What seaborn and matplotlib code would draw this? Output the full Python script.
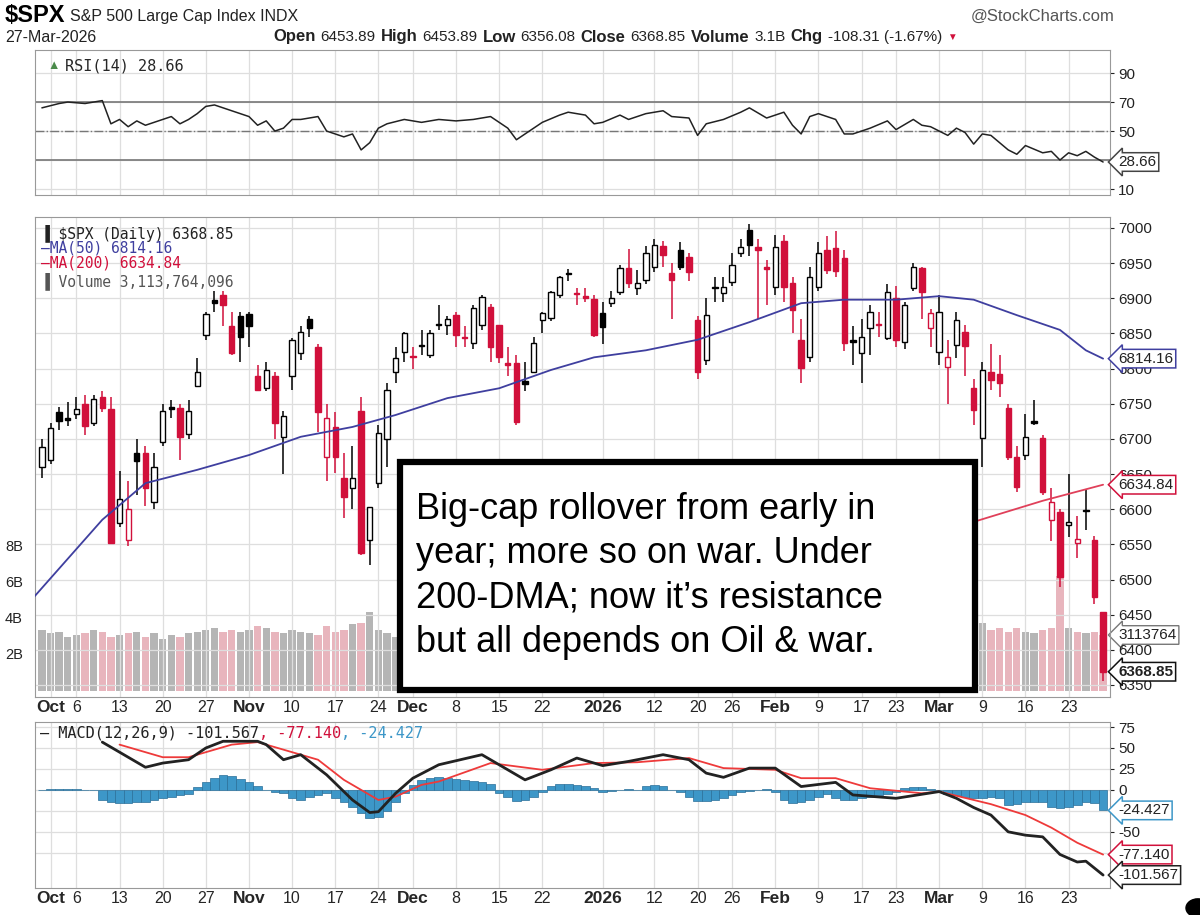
import numpy as np
import pandas as pd
import matplotlib
matplotlib.use("Agg")
import matplotlib.pyplot as plt
import matplotlib.patches as mpatches
import matplotlib.transforms as mtrans
import seaborn as sns

sns.set_style("white")
plt.rcParams['font.family'] = ['Liberation Sans', 'DejaVu Sans']

# ---- data ----
holidays = ['2025-11-27', '2025-12-25', '2026-01-01', '2026-01-19', '2026-02-16']
dates = pd.bdate_range('2025-09-30', '2026-03-27', freq='C', holidays=holidays)

opens = [6660, 6670, 6738, 6730, 6735, 6750, 6722, 6760, 6742, 6580,
         6556, 6680, 6680, 6610, 6695, 6745, 6744, 6707, 6775, 6848,
         6897, 6905, 6860, 6875, 6878, 6790, 6772, 6790, 6702, 6790,
         6822, 6870, 6830, 6674, 6717, 6644, 6630, 6740, 6556, 6637,
         6700, 6795, 6824, 6818, 6833, 6820, 6864, 6862, 6876, 6845,
         6836, 6862, 6888, 6862, 6808, 6808, 6782, 6795, 6869, 6872,
         6905, 6936, 6907, 6903, 6899, 6879, 6893, 6909, 6943, 6915,
         6926, 6945, 6975, 6936, 6968, 6958, 6869, 6812, 6916, 6908,
         6923, 6964, 6997, 6973, 6944, 6916, 6982, 6922, 6840, 6817,
         6916, 6969, 6971, 6957, 6840, 6822, 6858, 6863, 6843, 6900,
         6838, 6915, 6943, 6858, 6824, 6802, 6834, 6852, 6772, 6701,
         6795, 6793, 6744, 6674, 6677, 6725, 6701, 6585, 6596, 6578,
         6552, 6599, 6556, 6453.89]
highs = [6700, 6722, 6745, 6752, 6760, 6762, 6762, 6768, 6760, 6655,
         6640, 6700, 6690, 6680, 6750, 6755, 6750, 6755, 6815, 6880,
         6910, 6910, 6880, 6880, 6880, 6805, 6810, 6795, 6740, 6843,
         6860, 6875, 6835, 6750, 6738, 6680, 6690, 6760, 6600, 6720,
         6780, 6830, 6852, 6830, 6855, 6855, 6890, 6875, 6880, 6860,
         6890, 6905, 6892, 6862, 6830, 6820, 6810, 6845, 6880, 6910,
         6932, 6942, 6915, 6915, 6905, 6895, 6910, 6948, 6970, 6940,
         6975, 6985, 6982, 6950, 6980, 6965, 6875, 6900, 6930, 6930,
         6965, 6985, 7005, 6985, 6955, 6990, 6990, 6930, 6870, 6945,
         6980, 6988, 6995, 6968, 6860, 6870, 6890, 6880, 6920, 6918,
         6895, 6950, 6945, 6885, 6905, 6840, 6880, 6862, 6785, 6810,
         6835, 6820, 6750, 6690, 6735, 6755, 6705, 6630, 6600, 6650,
         6590, 6628, 6562, 6453.89]
lows = [6645, 6665, 6712, 6718, 6728, 6705, 6718, 6738, 6552, 6575,
        6548, 6620, 6605, 6600, 6690, 6730, 6670, 6700, 6775, 6840,
        6880, 6860, 6820, 6810, 6830, 6768, 6768, 6700, 6650, 6770,
        6812, 6845, 6710, 6640, 6652, 6588, 6600, 6535, 6520, 6630,
        6660, 6780, 6810, 6800, 6820, 6815, 6855, 6848, 6830, 6830,
        6828, 6855, 6810, 6808, 6790, 6720, 6768, 6795, 6850, 6868,
        6900, 6925, 6890, 6895, 6845, 6835, 6888, 6905, 6915, 6905,
        6920, 6938, 6945, 6870, 6940, 6925, 6785, 6805, 6895, 6895,
        6918, 6958, 6960, 6870, 6890, 6905, 6895, 6850, 6780, 6810,
        6910, 6935, 6930, 6825, 6805, 6780, 6820, 6845, 6840, 6830,
        6828, 6910, 6870, 6830, 6805, 6750, 6815, 6790, 6720, 6660,
        6770, 6760, 6670, 6625, 6670, 6720, 6620, 6555, 6490, 6560,
        6530, 6570, 6465, 6356.08]
closes = [6688, 6715, 6725, 6727, 6742, 6718, 6757, 6744, 6552, 6615,
          6600, 6668, 6630, 6660, 6740, 6742, 6703, 6740, 6795, 6878,
          6893, 6890, 6822, 6845, 6860, 6770, 6798, 6722, 6732, 6840,
          6852, 6858, 6738, 6730, 6674, 6617, 6645, 6538, 6603, 6708,
          6770, 6815, 6850, 6816, 6832, 6851, 6862, 6870, 6848, 6843,
          6886, 6902, 6831, 6816, 6805, 6724, 6778, 6836, 6879, 6909,
          6930, 6934, 6906, 6900, 6848, 6859, 6900, 6943, 6922, 6922,
          6964, 6976, 6961, 6926, 6945, 6937, 6795, 6876, 6914, 6916,
          6947, 6973, 6976, 6969, 6942, 6973, 6916, 6883, 6801, 6930,
          6964, 6940, 6939, 6836, 6838, 6845, 6880, 6862, 6909, 6840,
          6890, 6945, 6909, 6879, 6880, 6816, 6869, 6832, 6741, 6798,
          6784, 6779, 6674, 6632, 6703, 6722, 6625, 6610, 6504, 6582,
          6558, 6597, 6475, 6368.85]

# volume in billions
volume = [3.4, 3.2, 3.3, 3.0, 3.1, 3.2, 3.4, 3.3, 3.0, 3.1, 3.2, 3.3, 3.0, 3.2, 2.9, 3.1, 3.0, 3.2, 3.3, 3.4, 3.5, 3.3, 3.4, 3.3,
          3.4, 3.6, 3.5, 3.3, 3.2, 3.4, 3.3, 3.2, 3.1, 3.6, 3.3, 3.4, 3.7, 3.8, 4.4, 3.4, 3.2, 3.0, 2.4,
          3.2, 3.3, 3.4, 3.3, 3.5, 3.4, 3.3, 3.6, 3.8, 3.5, 3.6, 3.4, 4.2, 3.3, 3.0, 2.8, 2.4, 2.2, 2.0, 2.5, 2.6, 2.8,
          3.2, 3.4, 3.3, 3.4, 3.5, 3.3, 3.6, 3.4, 3.5, 3.6, 3.3, 3.2, 3.4, 3.3, 3.4, 3.5, 3.3, 3.4, 3.2, 3.5,
          3.6, 3.7, 3.5, 3.4, 3.5, 3.3, 3.4, 3.6, 3.5, 3.4, 3.3, 3.5, 3.4, 3.3, 3.5, 3.4, 3.3, 3.2, 3.4,
          3.5, 3.4, 3.6, 3.5, 3.4, 3.8, 3.4, 3.5, 3.3, 3.5, 3.3, 3.2, 3.4, 3.5, 6.4, 3.5, 3.3, 3.2, 3.3, 3.1]

# moving averages (day index, value)
ma50_idx = [-1, 7, 12, 18, 24, 30, 36, 41, 47, 53, 59, 64, 70, 76, 82, 88, 93, 99, 104, 108, 113, 118, 121, 123]
ma50_val = [6474, 6585, 6637, 6656, 6677, 6703, 6717, 6734, 6758, 6772, 6798, 6816, 6826, 6841, 6866, 6893,
            6898, 6898, 6903, 6898, 6876, 6855, 6826, 6814.16]
ma200_idx = [76, 88, 99, 108, 116, 123]
ma200_val = [6430, 6480, 6545, 6582, 6612, 6634.84]

rsi_idx = [0, 2, 3, 5, 7, 8, 9, 10, 11, 12, 13, 15, 16, 17, 18, 19, 20, 22, 24, 25, 26, 27, 28, 29, 30, 32,
           33, 35, 36, 37, 38, 39, 40, 42, 44, 46, 48, 50, 52, 54, 55, 57, 58, 60, 61, 63, 64, 65, 67, 68,
           70, 72, 73, 75, 76, 77, 79, 81, 82, 84, 86, 87, 88, 89, 90, 92, 93, 94, 96, 98, 99, 101, 102,
           103, 105, 106, 107, 108, 109, 110, 112, 113, 114, 116, 117, 118, 119, 120, 121, 122, 123]
rsi_val = [66, 69, 70, 69, 71, 55, 58, 53, 57, 54, 56, 60, 55, 58, 62, 67, 68, 64, 60, 54, 57, 50, 52, 58, 58, 60,
           50, 46, 48, 37, 42, 52, 55, 58, 56, 58, 57, 58, 60, 52, 44, 52, 56, 61, 63, 61, 55, 56, 61, 58,
           62, 64, 60, 59, 47, 55, 58, 63, 66, 59, 63, 54, 48, 60, 62, 58, 48, 48, 52, 57, 51, 58, 54,
           53, 47, 52, 49, 41, 48, 47, 37, 34, 40, 35, 36, 30, 35, 33, 36, 32, 28.66]

macd_idx = [7, 10, 12, 14, 17, 19, 21, 25, 26, 28, 30, 33, 36, 38, 39, 41, 43, 46, 51, 53, 56, 59, 62, 65,
            68, 72, 75, 77, 79, 82, 85, 88, 92, 94, 99, 104, 106, 108, 110, 112, 114, 116, 118, 120, 121, 123]
macd_val = [57, 39, 27, 32, 36, 50, 58, 58, 54, 36, 42, 18, -12, -27, -26, -4, 14, 30, 42, 30, 12, 24, 38, 29,
            34, 42, 36, 20, 15, 26, 26, 4, 9, -6, -10, -2, -10, -21, -30, -50, -54, -56, -77, -86, -85, -101.567]
signal_idx = [9, 14, 17, 22, 25, 29, 32, 35, 39, 41, 44, 46, 52, 58, 64, 69, 75, 79, 85, 88, 92, 96, 102,
              104, 108, 110, 114, 117, 120, 123]
signal_val = [54, 39, 39, 54, 57, 45, 36, 12, -12, -8, 6, 10, 32, 24, 32, 33, 38, 26, 24, 14, 14, 2, -4,
              -2, -12, -17, -30, -45, -63, -77.14]
hist = [0, 1, 1, 1, 1, 0, 0,
        -12, -14, -16, -16, -15, -14, -12, -10, -8, -6, -5,
        4, 10, 14, 18, 17, 13, 9, 5,
        0, -2, -4,
        -10, -12, -9, -6, -4,
        -10, -14, -20, -28, -33, -32, -25, -14,
        -4, 6, 12, 14,
        15, 14, 13, 12, 11, 9, 7,
        -4, -9, -13, -12, -8, -3,
        5, 7, 7, 6, 5, 2,
        -2, -1, 0, 1, 0,
        5, 6, 5,
        0, -2,
        -8, -13, -13, -12, -10, -6,
        -3, -1, 0, 1, -2,
        -12, -16, -15, -12, -8, -5,
        -10, -12, -12, -10, -8,
        -6, -5, -3,
        2, 3, 3, 1, 0,
        -5, -6, -8, -10, -10, -9, -10,
        -18, -17, -15, -15, -14,
        -20, -22, -20, -18,
        -15, -16, -24.427]

tick_dates = ['2025-10-01', '2025-10-06', '2025-10-13', '2025-10-20', '2025-10-27', '2025-11-03',
              '2025-11-10', '2025-11-17', '2025-11-24', '2025-12-01', '2025-12-08', '2025-12-15',
              '2025-12-22', '2026-01-02', '2026-01-12', '2026-01-20', '2026-01-26', '2026-02-02',
              '2026-02-09', '2026-02-17', '2026-02-23', '2026-03-02', '2026-03-09', '2026-03-16', '2026-03-23']
tick_labels = ['Oct', '6', '13', '20', '27', 'Nov', '10', '17', '24', 'Dec', '8', '15', '22', '2026',
               '12', '20', '26', 'Feb', '9', '17', '23', 'Mar', '9', '16', '23']
bold_labels = {'Oct', 'Nov', 'Dec', '2026', 'Feb', 'Mar'}

# ---- styles ----
RED = '#d1103b'
BLUE = '#3f3f9f'
MA200_RED = '#e0405a'
GRID = '#dedede'
HIST_BLUE = '#3d97c8'
MONO = ['DejaVu Sans Mono']

n = len(closes)
x = np.arange(n)
date_pos = {d: i for i, d in enumerate(dates.strftime('%Y-%m-%d'))}
tick_pos = [date_pos[d] for d in tick_dates]

W, H = 1200, 915
fig = plt.figure(figsize=(12, 9.15), dpi=100)
fig.patch.set_facecolor('white')
L, R = 35 / W, 1110 / W


def frac(top, bottom):
    return [L, 1 - bottom / H, R - L, (bottom - top) / H]


ax_rsi = fig.add_axes(frac(50, 195))
ax_v = fig.add_axes(frac(217, 697))
ax_p = fig.add_axes(frac(217, 697))
ax_m = fig.add_axes(frac(722, 888))
XL = (-0.8, n - 0.2)


def style_axis(ax):
    ax.set_xlim(*XL)
    ax.set_xticks(tick_pos)
    ax.grid(True, color=GRID, lw=0.9)
    ax.set_axisbelow(True)
    for s in ax.spines.values():
        s.set_color('#999999')
        s.set_linewidth(0.8)
    ax.yaxis.tick_right()
    ax.tick_params(axis='y', length=3, labelsize=11, colors='#222222', pad=3)
    ax.tick_params(axis='x', length=0)


# ---- RSI ----
style_axis(ax_rsi)
ax_rsi.set_ylim(5.9, 105.9)
ax_rsi.set_yticks([10, 30, 50, 70, 90])
ax_rsi.set_yticklabels(['10', '', '50', '70', '90'])
ax_rsi.set_xticklabels([])
ax_rsi.axhline(70, color='#777777', lw=1.2)
ax_rsi.axhline(30, color='#777777', lw=1.2)
ax_rsi.axhline(50, color='#777777', lw=1.0, ls='-.')
sns.lineplot(x=rsi_idx, y=rsi_val, ax=ax_rsi, color='#222222', lw=1.1)
ax_rsi.set_xlim(*XL)
ax_rsi.text(0.012, 0.93, '\u25b2', transform=ax_rsi.transAxes, fontsize=9, color='#4a8a4a', va='top')
ax_rsi.text(0.028, 0.94, 'RSI(14) 28.66', transform=ax_rsi.transAxes, fontsize=11, family=MONO, va='top')

# ---- volume (separate axes under the price axes) ----
ax_v.set_ylim(-0.33, 26.3)
ax_v.set_xlim(*XL)
vcol = ['#b5b5b5' if (i == 0 or closes[i] >= closes[i - 1]) else '#e8b5bd' for i in range(n)]
ax_v.bar(x, volume, width=0.85, color=vcol, edgecolor='none', zorder=1)
ax_v.set_xticks([])
ax_v.set_yticks([])
for s in ax_v.spines.values():
    s.set_visible(False)
vtrans = mtrans.blended_transform_factory(ax_v.transAxes, ax_v.transData)
for v in [2, 4, 6, 8]:
    ax_v.text(-0.028, v, f'{v}B', transform=vtrans, fontsize=10.5, va='center', ha='left', color='#222222')

# ---- price ----
style_axis(ax_p)
ax_p.patch.set_visible(False)
ax_p.set_ylim(6332.9, 7015.6)
ax_p.set_yticks(np.arange(6350, 7001, 50))
ax_p.set_yticklabels([str(v) for v in np.arange(6350, 7001, 50)])

for i in x:
    o, h, l, c = opens[i], highs[i], lows[i], closes[i]
    col = 'black' if (i == 0 or c >= closes[i - 1]) else RED
    ax_p.vlines(i, l, h, color=col, lw=1.1, zorder=3)
    fc = 'white' if c >= o else col
    ax_p.bar(i, max(abs(c - o), 1.5), bottom=min(o, c), width=0.62, facecolor=fc,
             edgecolor=col, lw=1.0, zorder=4)

sns.lineplot(x=ma50_idx, y=ma50_val, ax=ax_p, color=BLUE, lw=1.3, zorder=5)
sns.lineplot(x=ma200_idx, y=ma200_val, ax=ax_p, color=MA200_RED, lw=1.3, zorder=5)
ax_p.set_xlim(*XL)

leg = [('$SPX (Daily) 6368.85', '#222222', '\u2590 '), ('MA(50) 6814.16', BLUE, '\u2014'),
       ('MA(200) 6634.84', RED, '\u2014'), ('Volume 3,113,764,096', '#555555', '\u2590 ')]
for k, (t, c, m) in enumerate(leg):
    ax_p.text(0.006, 0.985 - k * 0.033, m + t, transform=ax_p.transAxes, fontsize=10.5,
              family=MONO, color=c, va='top', zorder=6)

# ---- MACD ----
style_axis(ax_m)
ax_m.set_ylim(-117, 81)
ax_m.set_yticks([-75, -50, -25, 0, 25, 50, 75])
ax_m.set_yticklabels(['', '-50', '', '0', '25', '50', '75'])
ax_m.bar(x, hist, width=1.0, color=HIST_BLUE, edgecolor='#2a6f99', lw=0.5, zorder=2)
sns.lineplot(x=signal_idx, y=signal_val, ax=ax_m, color='#ee3a3a', lw=1.3, zorder=3)
sns.lineplot(x=macd_idx, y=macd_val, ax=ax_m, color='#222222', lw=2.0, zorder=4)
ax_m.set_xlim(*XL)

# x tick labels under price and MACD panels
for ax in (ax_p, ax_m):
    ax.set_xticklabels(tick_labels)
    for lab in ax.get_xticklabels():
        lab.set_fontsize(12.5 if lab.get_text() in bold_labels else 11.5)
        lab.set_fontweight('bold' if lab.get_text() in bold_labels else 'normal')
    ax.tick_params(axis='x', pad=2)
ax_rsi.tick_params(axis='x', labelbottom=False)
ax_p.set_xlabel('')
ax_m.set_xlabel('')


# ---- right side value tags ----
def tag(ax, y, text, ec, bold=False):
    ax.annotate(text, xy=(1.0, y), xycoords=('axes fraction', 'data'), xytext=(6, 0),
                textcoords='offset points', va='center', ha='left', fontsize=11,
                fontweight='bold' if bold else 'normal', color='#222222', zorder=10,
                bbox=dict(boxstyle='larrow,pad=0.15', fc='white', ec=ec, lw=1.1),
                annotation_clip=False)


tag(ax_rsi, 28.66, '28.66', '#444444')
tag(ax_p, 6814.16, '6814.16', BLUE)
tag(ax_p, 6634.84, '6634.84', RED)
tag(ax_p, 6368.85, '6368.85', '#111111', bold=True)
ax_v.annotate('3113764', xy=(1.0, 3.11), xycoords=('axes fraction', 'data'), xytext=(6, 0),
              textcoords='offset points', va='center', ha='left', fontsize=11, color='#222222',
              bbox=dict(boxstyle='larrow,pad=0.15', fc='white', ec='#777777', lw=1.0), annotation_clip=False)
tag(ax_m, -24.427, '-24.427', HIST_BLUE)
tag(ax_m, -77.14, '-77.140', RED)
tag(ax_m, -101.567, '-101.567', '#222222')

# ---- sequential text rows (header, MACD legend) ----
renderer = fig.canvas.get_renderer()


def text_row(x0, y0, pieces, gap=4):
    px = x0
    for t, size, bold, color, fam in pieces:
        kw = dict(fontsize=size, fontweight='bold' if bold else 'normal', color=color, va='center')
        if fam:
            kw['family'] = fam
        txt = fig.text(px / W, 1 - y0 / H, t, **kw)
        px += txt.get_window_extent(renderer).width + gap


text_row(5, 16, [('$SPX', 17, True, 'black', None),
                 ('S&P 500 Large Cap Index INDX', 11.5, False, '#222222', None)])
fig.text(5 / W, 1 - 37 / H, '27-Mar-2026', fontsize=11.5, va='center', color='#222222')
fig.text(1115 / W, 1 - 16 / H, '@StockCharts.com', fontsize=12, va='center', ha='right', color='#555555')
text_row(273, 37, [('Open', 12, True, '#222222', None), ('6453.89', 11, False, '#222222', None),
                   ('High', 12, True, '#222222', None), ('6453.89', 11, False, '#222222', None),
                   ('Low', 12, True, '#222222', None), ('6356.08', 11, False, '#222222', None),
                   ('Close', 12, True, '#222222', None), ('6368.85', 11, False, '#222222', None),
                   ('Volume', 12, True, '#222222', None), ('3.1B', 11, False, '#222222', None),
                   ('Chg', 12, True, '#222222', None), ('-108.31 (-1.67%)', 11, False, '#222222', None),
                   ('\u25bc', 7, False, RED, None)], gap=5)
text_row(40, 733, [('\u2014 MACD(12,26,9) -101.567', 11, False, '#222222', MONO),
                   (', -77.140', 11, False, RED, MONO), (', -24.427', 11, False, HIST_BLUE, MONO)], gap=0)

# ---- annotation box ----
box = mpatches.Rectangle((400 / W, 1 - 690 / H), 575 / W, 228 / H, transform=fig.transFigure,
                         facecolor='white', edgecolor='black', lw=4.5, zorder=20)
fig.patches.append(box)
fig.text(416 / W, 1 - 576 / H,
         "Big-cap rollover from early in\nyear; more so on war. Under\n200-DMA; now it\u2019s resistance\nbut all depends on Oil & war.",
         fontsize=26, va='center', ha='left', linespacing=1.35, zorder=21, color='black')

fig.patches.append(mpatches.Circle((1198 / W, 1 - 908 / H), 12 / W, transform=fig.transFigure,
                                   color='black', zorder=22))

fig.savefig('out.png', dpi=100, facecolor='white')
